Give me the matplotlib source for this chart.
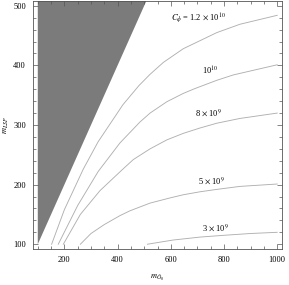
import numpy as np
import matplotlib
matplotlib.use("Agg")
from matplotlib import pyplot as plt
from matplotlib.ticker import MultipleLocator

plt.rcParams['font.family'] = ['Liberation Serif', 'DejaVu Serif']
plt.rcParams['mathtext.fontset'] = 'stix'

# contour curves (m_gluino, m_LSP)
c1_x = [152, 200, 271, 327, 420, 480, 522, 572, 647, 773, 860, 1000]
c1_y = [100, 158, 226, 272, 334, 366, 385, 405, 428, 455, 469, 484]
c2_x = [177, 250, 327, 409, 484, 522, 585, 647, 690, 773, 835, 1000]
c2_y = [100, 165, 222, 270, 305, 320, 339, 353, 361, 375, 384, 401]
c3_x = [196, 260, 334, 415, 459, 522, 585, 647, 710, 773, 860, 1000]
c3_y = [100, 150, 190, 224, 242, 260, 275, 286, 295, 303, 311, 320]
c4_x = [260, 300, 350, 409, 446, 522, 600, 647, 710, 773, 860, 1000]
c4_y = [100, 118, 133, 148, 156, 169, 178, 183, 188, 192, 197, 201]
c5_x = [512, 608, 710, 800, 900, 1000]
c5_y = [100, 107, 112, 115, 118, 120]

labels = [r"$C_{\phi}$ = 1.2 $\times$ 10$^{10}$", r"10$^{10}$",
          r"8 $\times$ 10$^{9}$", r"5 $\times$ 10$^{9}$", r"3 $\times$ 10$^{9}$"]
label_x = [702, 747, 740, 754, 766]
label_y = [480, 390, 321, 207, 128]

# excluded region m_LSP > m_gluino
excl_x = [100, 508, 100]
excl_y = [100, 508, 508]

fig = plt.figure(figsize=(2.89, 2.85), dpi=100)
ax = fig.add_axes([33/289, 36/285, 249/289, 248/285])

ax.fill(excl_x, excl_y, color='#7b7b7b', lw=0)
for xs, ys in [(c1_x, c1_y), (c2_x, c2_y), (c3_x, c3_y), (c4_x, c4_y), (c5_x, c5_y)]:
    ax.plot(xs, ys, color='#b0b0b0', lw=0.65)
for t, x, y in zip(labels, label_x, label_y):
    ax.text(x, y, t, fontsize=6, ha='center', va='center')

ax.set_xlim(82, 1018)
ax.set_ylim(92, 508)
ax.xaxis.set_major_locator(MultipleLocator(200))
ax.xaxis.set_minor_locator(MultipleLocator(50))
ax.yaxis.set_major_locator(MultipleLocator(100))
ax.yaxis.set_minor_locator(MultipleLocator(20))
ax.tick_params(which='both', direction='in', top=True, right=True, labelsize=6,
               color='#555555', width=0.5)
ax.tick_params(which='major', length=3.5, pad=5)
ax.tick_params(which='minor', length=2)
for s in ax.spines.values():
    s.set_linewidth(0.6)
    s.set_color('#555555')

ax.set_xlabel(r"$m_{\tilde{G}_0}$", fontsize=6)
ax.xaxis.set_label_coords(0.5, -0.095)
ax.set_ylabel(r"$m_{LSP}$", fontsize=6)
ax.yaxis.set_label_coords(-0.09, 0.5)

fig.savefig("out.png", dpi=100)
